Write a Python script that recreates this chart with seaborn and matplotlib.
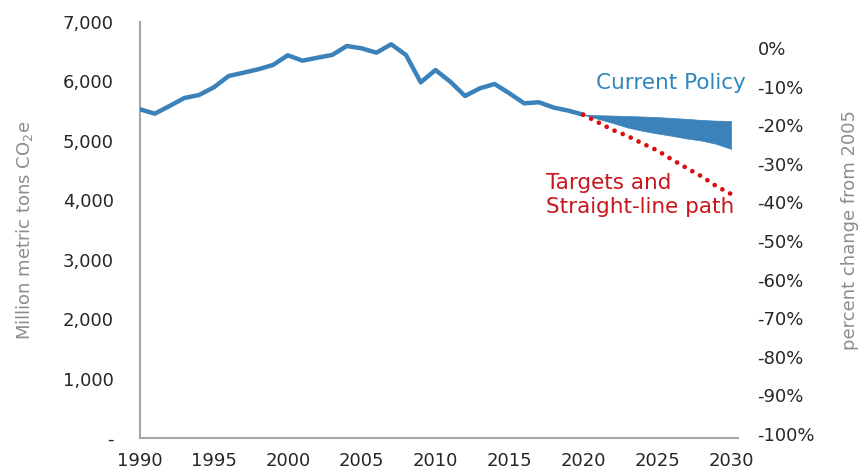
import matplotlib
matplotlib.use("Agg")
import matplotlib.pyplot as plt
import matplotlib.ticker as mticker
import seaborn as sns
import pandas as pd

# ---- data ----
hist_years = list(range(1990, 2021))
hist_values = [5531, 5457, 5587, 5721, 5772, 5901, 6091, 6147, 6204, 6277,
               6440, 6349, 6399, 6445, 6596, 6557, 6484, 6625, 6445, 5985,
               6192, 5996, 5755, 5884, 5957, 5800, 5632, 5649, 5560, 5508,
               5440]
proj_years = list(range(2020, 2031))
policy_high = [5440, 5432, 5425, 5418, 5410, 5400, 5385, 5370, 5352, 5340, 5335]
policy_low = [5440, 5370, 5300, 5225, 5170, 5125, 5085, 5040, 5005, 4950, 4865]
target_values = [5440, 5312, 5183, 5082, 4956, 4841, 4686, 4543, 4404, 4240, 4106]
left_ticks = [0, 1000, 2000, 3000, 4000, 5000, 6000, 7000]
left_tick_labels = ["-", "1,000", "2,000", "3,000", "4,000", "5,000", "6,000", "7,000"]
pct_ticks = [0, -10, -20, -30, -40, -50, -60, -70, -80, -90, -100]
x_ticks = [1990, 1995, 2000, 2005, 2010, 2015, 2020, 2025, 2030]

BLUE = "#3a82b9"
RED_DOT = "#dd0b0b"
RED_TXT = "#c8171c"
GREY = "#8c8c8c"
TICK = "#262626"
SPINE = "#a6a6a6"

sns.set_theme(style="white")
plt.rcParams["font.family"] = ["DejaVu Sans"]

fig = plt.figure(figsize=(8.65, 4.73), dpi=100)
ax = fig.add_axes([140 / 865, 1 - 438 / 473, (738 - 140) / 865, (438 - 22) / 473])

hist = pd.DataFrame({"year": hist_years, "value": hist_values})
targ = pd.DataFrame({"year": proj_years, "value": target_values})

ax.fill_between(proj_years, policy_low, policy_high, color=BLUE, linewidth=0.5,
                edgecolor=BLUE, zorder=2)
sns.lineplot(data=hist, x="year", y="value", ax=ax, color=BLUE, linewidth=3.2,
             zorder=3)
sns.lineplot(data=targ, x="year", y="value", ax=ax, color=RED_DOT, linewidth=3.4,
             linestyle=(0, (0.01, 1.85)), dash_capstyle="round", zorder=4)

ax.set_xlim(1990, 2030 + 7 / 14.78)
ax.set_ylim(0, 7000)
ax.set_xticks(x_ticks)
ax.set_yticks(left_ticks)
ax.set_yticklabels(left_tick_labels)
ax.set_xlabel("")
ax.set_ylabel("Million metric tons CO$_2$e", color=GREY, fontsize=13, labelpad=20)
ax.tick_params(axis="y", length=0, pad=19, labelsize=13, labelcolor=TICK)
ax.tick_params(axis="x", length=0, pad=10, labelsize=13, labelcolor=TICK)

for s in ["top", "right"]:
    ax.spines[s].set_visible(False)
for s in ["left", "bottom"]:
    ax.spines[s].set_color(SPINE)
    ax.spines[s].set_linewidth(1.5)
ax.grid(False)

# right axis: percent change from 2005
ax2 = ax.twinx()
px_per_pct = (434 - 48) / 100
top_pct = (48 - 22) / px_per_pct
bot_pct = -100 - (438 - 434) / px_per_pct
ax2.set_ylim(bot_pct, top_pct)
ax2.set_yticks(pct_ticks)
ax2.yaxis.set_major_formatter(mticker.FuncFormatter(lambda v, p: f"{v:.0f}%"))
ax2.tick_params(axis="y", length=0, pad=14, labelsize=13, labelcolor=TICK)
for s in ["top", "right", "left", "bottom"]:
    ax2.spines[s].set_visible(False)
ax2.set_ylabel("percent change from 2005", color=GREY, fontsize=13, labelpad=19)
ax2.grid(False)

ax.text(2031.0, 5974, "Current Policy", color="#2f86bf", fontsize=15.5,
        ha="right", va="center")
ax.text(2017.49, 4090, "Targets and\nStraight-line path", color=RED_TXT,
        fontsize=15.5, ha="left", va="center", linespacing=1.3)

fig.savefig("out.png", dpi=100)
